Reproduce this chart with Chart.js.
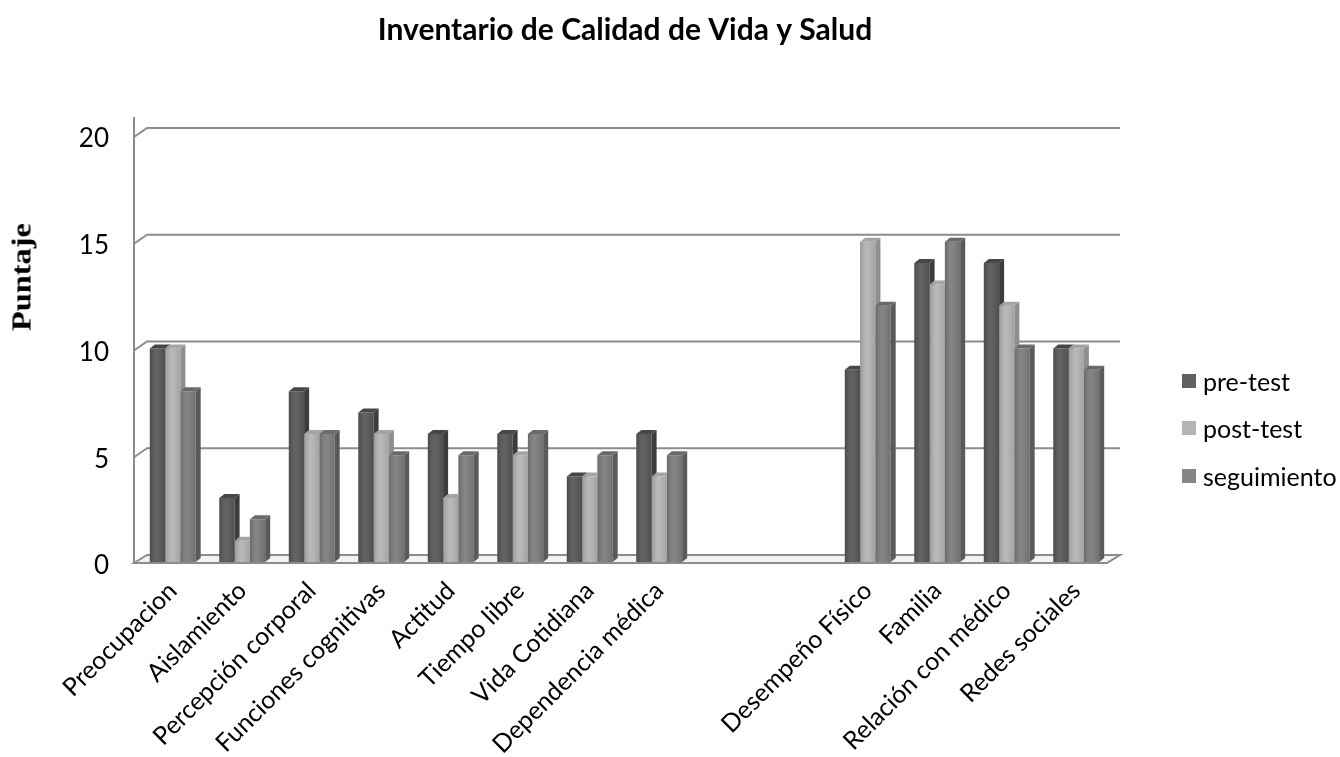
<!DOCTYPE html>
<html>
<head>
<meta charset="utf-8">
<title>Inventario de Calidad de Vida y Salud</title>
<script src="https://cdn.jsdelivr.net/npm/chart.js@4/dist/chart.umd.min.js"></script>
<style>
  html, body { margin: 0; padding: 0; background: #fff; }
  #wrap { position: relative; width: 1340px; height: 757px; overflow: hidden; }
  #c { position: absolute; left: 0; top: 0; }
  .ytitle {
    position: absolute; left: 22px; top: 277px;
    transform: translate(-50%, -50%) rotate(-90deg) scale(1.2, 1);
    font: bold 27px 'Liberation Serif', serif; white-space: nowrap; color: #000;
  }
  #legend { position: absolute; left: 1182px; top: 357px; font: 25px Lato, sans-serif; color: #000; }
  #legend .item { display: flex; align-items: center; height: 47.5px; white-space: nowrap; }
  #legend .sw { width: 14px; height: 14px; margin-right: 7px; flex: none; }
</style>
</head>
<body>
<div id="wrap">
  <canvas id="c" width="1340" height="757"></canvas>
  <div class="ytitle">Puntaje</div>
  <div id="legend"></div>
</div>
<script>
// Subscales of the inventory (two blank slots separate the groups)
const categories = [
  'Preocupacion', 'Aislamiento', 'Percepción corporal', 'Funciones cognitivas',
  'Actitud', 'Tiempo libre', 'Vida Cotidiana', 'Dependencia médica',
  '', '',
  'Desempeño Físico', 'Familia', 'Relación con médico', 'Redes sociales'
];
const preTest     = [10, 3, 8, 7, 6, 6, 4, 6, null, null,  9, 14, 14, 10];
const postTest    = [10, 1, 6, 6, 3, 5, 4, 4, null, null, 15, 13, 12, 10];
const seguimiento = [ 8, 2, 6, 5, 5, 6, 5, 5, null, null, 12, 15, 10,  9];
const seriesNames = ['pre-test', 'post-test', 'seguimiento'];
const yTicks = [0, 5, 10, 15, 20];

// Greys: front, side face, top face, legend swatch
const frontColors  = ['#575757', '#b4b4b4', '#7c7c7c'];
const sideColors   = ['#3c3c3c', '#8e8e8e', '#5a5a5a'];
const topColors    = ['#474747', '#a4a4a4', '#6a6a6a'];
const swatchColors = ['#606060', '#b4b4b4', '#858585'];

const DX = 5, DY = 4;      // bar depth
const WALL = 7;            // back wall offset
const seriesData = [preTest, postTest, seguimiento];

// Back wall gridlines, floor and vertical axis drawn beneath the bars
const frame3d = {
  id: 'frame3d',
  beforeDatasetsDraw(chart) {
    const { ctx, chartArea: a, scales: { y } } = chart;
    const axisX = a.left - 4;
    const y0 = y.getPixelForValue(0);
    ctx.save();
    ctx.strokeStyle = '#8c8c8c';
    ctx.lineWidth = 2;
    // floor slab
    ctx.beginPath();
    ctx.moveTo(axisX, y0 + 1);
    ctx.lineTo(axisX + 13, y0 - WALL);
    ctx.lineTo(a.right + 9, y0 - WALL);
    ctx.lineTo(a.right - 4, y0 + 1);
    ctx.closePath();
    ctx.fillStyle = '#f3f3f3';
    ctx.fill();
    ctx.stroke();
    // gridlines on the back wall
    yTicks.forEach(v => {
      if (v === 0) return;
      const py = y.getPixelForValue(v);
      ctx.beginPath();
      ctx.moveTo(axisX, py + 2);
      ctx.lineTo(axisX + 13, py - WALL);
      ctx.lineTo(a.right + 9, py - WALL);
      ctx.stroke();
    });
    // vertical axis
    ctx.beginPath();
    ctx.moveTo(axisX, y.getPixelForValue(20) - 18);
    ctx.lineTo(axisX, y0 + 2);
    ctx.stroke();
    ctx.restore();
  },
  afterDatasetsDraw(chart) {
    const { ctx } = chart;
    const metas = chart.getSortedVisibleDatasetMetas().filter(m => m.type === 'bar');
    const props = ['x', 'y', 'base', 'width'];
    for (let i = 0; i < categories.length; i++) {
      for (let d = 0; d < metas.length; d++) {
        if (seriesData[d][i] == null) continue;
        const p = metas[d].data[i].getProps(props, true);
        const L = p.x - p.width / 2, R = p.x + p.width / 2;
        const top = p.y, base = p.base;
        ctx.save();
        // rounded shading on the front face
        const g = ctx.createLinearGradient(L, 0, R, 0);
        g.addColorStop(0, 'rgba(0,0,0,0.16)');
        g.addColorStop(0.45, 'rgba(255,255,255,0.07)');
        g.addColorStop(1, 'rgba(0,0,0,0.10)');
        ctx.fillStyle = g;
        ctx.fillRect(L, top, p.width, base - top);
        // hide faces behind the neighbouring bar
        if (d + 1 < metas.length && seriesData[d + 1][i] != null) {
          const q = metas[d + 1].data[i].getProps(props, true);
          ctx.beginPath();
          ctx.rect(0, 0, chart.width, chart.height);
          ctx.rect(q.x - q.width / 2, q.y, q.width, q.base - q.y);
          ctx.clip('evenodd');
        }
        ctx.fillStyle = sideColors[d];
        ctx.beginPath();
        ctx.moveTo(R, top);
        ctx.lineTo(R + DX, top - DY);
        ctx.lineTo(R + DX, base - DY);
        ctx.lineTo(R, base);
        ctx.closePath();
        ctx.fill();
        ctx.fillStyle = topColors[d];
        ctx.beginPath();
        ctx.moveTo(L, top);
        ctx.lineTo(L + DX, top - DY);
        ctx.lineTo(R + DX, top - DY);
        ctx.lineTo(R, top);
        ctx.closePath();
        ctx.fill();
        ctx.restore();
      }
    }
  }
};

new Chart(document.getElementById('c'), {
  type: 'bar',
  data: {
    labels: categories,
    datasets: seriesData.map((arr, d) => ({
      label: seriesNames[d],
      data: arr,
      backgroundColor: frontColors[d],
      borderWidth: 0,
      categoryPercentage: 0.66,
      barPercentage: 1.0
    }))
  },
  options: {
    responsive: false,
    animation: false,
    layout: { padding: { left: 0, right: 90, top: 0, bottom: 0 } },
    plugins: {
      legend: { display: false },
      tooltip: { enabled: false },
      title: {
        display: true,
        text: 'Inventario de Calidad de Vida y Salud',
        color: '#000',
        font: { family: 'Lato', size: 30, weight: 'bold', lineHeight: 1.2 },
        padding: { top: 12, bottom: 87 }
      }
    },
    scales: {
      x: {
        grid: { display: false },
        border: { display: false },
        ticks: {
          color: '#000',
          font: { family: 'Lato', size: 25 },
          minRotation: 45, maxRotation: 45,
          autoSkip: false,
          padding: 6
        },
        afterFit(s) { s.height = 195; }
      },
      y: {
        min: 0, max: 20,
        afterBuildTicks(s) { s.ticks = yTicks.map(v => ({ value: v })); },
        grid: { display: false },
        border: { display: false },
        ticks: {
          color: '#000',
          font: { family: 'Lato', size: 26 },
          padding: 21,
          labelOffset: 4
        },
        afterFit(s) { s.width = 138; }
      },
      // blank strip on the right that holds the legend
      legendSpace: {
        type: 'linear',
        position: 'right',
        display: true,
        grid: { display: false },
        border: { display: false },
        ticks: { display: false },
        afterFit(s) { s.width = 139; }
      }
    }
  },
  plugins: [frame3d]
});

// Legend entries
const legend = document.getElementById('legend');
seriesNames.forEach((name, d) => {
  const row = document.createElement('div');
  row.className = 'item';
  const sw = document.createElement('span');
  sw.className = 'sw';
  sw.style.background = swatchColors[d];
  const tx = document.createElement('span');
  tx.textContent = name;
  row.appendChild(sw);
  row.appendChild(tx);
  legend.appendChild(row);
});
</script>
</body>
</html>
